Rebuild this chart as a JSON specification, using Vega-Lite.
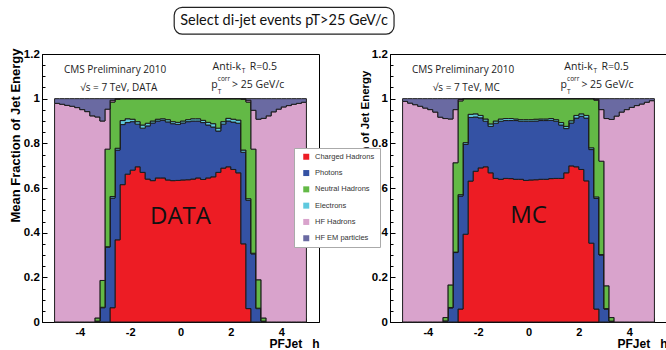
{
  "$schema": "https://vega.github.io/schema/vega-lite/v6.json",
  "background": "white",
  "padding": {"left": 8, "top": 6, "right": 0, "bottom": 0},
  "datasets": {
    "comps": [
      {"k": "ch", "name": "Charged Hadrons"},
      {"k": "ph", "name": "Photons"},
      {"k": "el", "name": "Electrons"},
      {"k": "nh", "name": "Neutral Hadrons"},
      {"k": "hh", "name": "HF Hadrons"},
      {"k": "he", "name": "HF EM particles"}
    ],
    "bins": [
      {"s":"DATA","lo":-5,"hi":-4.8,"ch":0,"ph":0,"el":0,"nh":0,"hh":0.979,"he":0.021},
      {"s":"DATA","lo":-4.8,"hi":-4.6,"ch":0,"ph":0,"el":0,"nh":0,"hh":0.975,"he":0.025},
      {"s":"DATA","lo":-4.6,"hi":-4.4,"ch":0,"ph":0,"el":0,"nh":0,"hh":0.97,"he":0.03},
      {"s":"DATA","lo":-4.4,"hi":-4.2,"ch":0,"ph":0,"el":0,"nh":0,"hh":0.966,"he":0.034},
      {"s":"DATA","lo":-4.2,"hi":-4,"ch":0,"ph":0,"el":0,"nh":0,"hh":0.96,"he":0.04},
      {"s":"DATA","lo":-4,"hi":-3.8,"ch":0,"ph":0,"el":0,"nh":0,"hh":0.951,"he":0.049},
      {"s":"DATA","lo":-3.8,"hi":-3.6,"ch":0,"ph":0,"el":0,"nh":0,"hh":0.942,"he":0.058},
      {"s":"DATA","lo":-3.6,"hi":-3.4,"ch":0,"ph":0,"el":0,"nh":0,"hh":0.923,"he":0.077},
      {"s":"DATA","lo":-3.4,"hi":-3.2,"ch":0,"ph":0.004,"el":0,"nh":0.014,"hh":0.9,"he":0.082},
      {"s":"DATA","lo":-3.2,"hi":-3,"ch":0,"ph":0.064,"el":0.002,"nh":0.12,"hh":0.714,"he":0.1},
      {"s":"DATA","lo":-3,"hi":-2.8,"ch":0,"ph":0.335,"el":0.002,"nh":0.437,"hh":0.179,"he":0.047},
      {"s":"DATA","lo":-2.8,"hi":-2.6,"ch":0.064,"ph":0.491,"el":0.007,"nh":0.423,"hh":0.008,"he":0.007},
      {"s":"DATA","lo":-2.6,"hi":-2.4,"ch":0.368,"ph":0.402,"el":0.008,"nh":0.22,"hh":0.001,"he":0.001},
      {"s":"DATA","lo":-2.4,"hi":-2.2,"ch":0.615,"ph":0.269,"el":0.018,"nh":0.098,"hh":0,"he":0},
      {"s":"DATA","lo":-2.2,"hi":-2,"ch":0.662,"ph":0.231,"el":0.017,"nh":0.09,"hh":0,"he":0},
      {"s":"DATA","lo":-2,"hi":-1.8,"ch":0.68,"ph":0.217,"el":0.011,"nh":0.092,"hh":0,"he":0},
      {"s":"DATA","lo":-1.8,"hi":-1.6,"ch":0.695,"ph":0.191,"el":0.011,"nh":0.103,"hh":0,"he":0},
      {"s":"DATA","lo":-1.6,"hi":-1.4,"ch":0.67,"ph":0.198,"el":0.014,"nh":0.118,"hh":0,"he":0},
      {"s":"DATA","lo":-1.4,"hi":-1.2,"ch":0.64,"ph":0.238,"el":0.012,"nh":0.11,"hh":0,"he":0},
      {"s":"DATA","lo":-1.2,"hi":-1,"ch":0.633,"ph":0.258,"el":0.009,"nh":0.1,"hh":0,"he":0},
      {"s":"DATA","lo":-1,"hi":-0.8,"ch":0.645,"ph":0.255,"el":0.008,"nh":0.092,"hh":0,"he":0},
      {"s":"DATA","lo":-0.8,"hi":-0.6,"ch":0.645,"ph":0.258,"el":0.007,"nh":0.09,"hh":0,"he":0},
      {"s":"DATA","lo":-0.6,"hi":-0.4,"ch":0.636,"ph":0.26,"el":0.01,"nh":0.094,"hh":0,"he":0},
      {"s":"DATA","lo":-0.4,"hi":-0.2,"ch":0.633,"ph":0.255,"el":0.009,"nh":0.103,"hh":0,"he":0},
      {"s":"DATA","lo":-0.2,"hi":0,"ch":0.634,"ph":0.251,"el":0.009,"nh":0.106,"hh":0,"he":0},
      {"s":"DATA","lo":0,"hi":0.2,"ch":0.636,"ph":0.255,"el":0.009,"nh":0.1,"hh":0,"he":0},
      {"s":"DATA","lo":0.2,"hi":0.4,"ch":0.637,"ph":0.26,"el":0.009,"nh":0.094,"hh":0,"he":0},
      {"s":"DATA","lo":0.4,"hi":0.6,"ch":0.64,"ph":0.26,"el":0.01,"nh":0.09,"hh":0,"he":0},
      {"s":"DATA","lo":0.6,"hi":0.8,"ch":0.645,"ph":0.255,"el":0.01,"nh":0.09,"hh":0,"he":0},
      {"s":"DATA","lo":0.8,"hi":1,"ch":0.638,"ph":0.255,"el":0.01,"nh":0.097,"hh":0,"he":0},
      {"s":"DATA","lo":1,"hi":1.2,"ch":0.645,"ph":0.237,"el":0.012,"nh":0.106,"hh":0,"he":0},
      {"s":"DATA","lo":1.2,"hi":1.4,"ch":0.65,"ph":0.223,"el":0.015,"nh":0.112,"hh":0,"he":0},
      {"s":"DATA","lo":1.4,"hi":1.6,"ch":0.67,"ph":0.185,"el":0.013,"nh":0.132,"hh":0,"he":0},
      {"s":"DATA","lo":1.6,"hi":1.8,"ch":0.689,"ph":0.197,"el":0.011,"nh":0.103,"hh":0,"he":0},
      {"s":"DATA","lo":1.8,"hi":2,"ch":0.695,"ph":0.205,"el":0.012,"nh":0.088,"hh":0,"he":0},
      {"s":"DATA","lo":2,"hi":2.2,"ch":0.683,"ph":0.212,"el":0.013,"nh":0.092,"hh":0,"he":0},
      {"s":"DATA","lo":2.2,"hi":2.4,"ch":0.668,"ph":0.222,"el":0.014,"nh":0.096,"hh":0,"he":0},
      {"s":"DATA","lo":2.4,"hi":2.6,"ch":0.35,"ph":0.41,"el":0.01,"nh":0.228,"hh":0.001,"he":0.001},
      {"s":"DATA","lo":2.6,"hi":2.8,"ch":0.06,"ph":0.485,"el":0.007,"nh":0.433,"hh":0.008,"he":0.007},
      {"s":"DATA","lo":2.8,"hi":3,"ch":0,"ph":0.305,"el":0.003,"nh":0.466,"hh":0.174,"he":0.052},
      {"s":"DATA","lo":3,"hi":3.2,"ch":0,"ph":0.06,"el":0.002,"nh":0.127,"hh":0.719,"he":0.092},
      {"s":"DATA","lo":3.2,"hi":3.4,"ch":0,"ph":0.004,"el":0,"nh":0.014,"hh":0.894,"he":0.088},
      {"s":"DATA","lo":3.4,"hi":3.6,"ch":0,"ph":0,"el":0,"nh":0,"hh":0.923,"he":0.077},
      {"s":"DATA","lo":3.6,"hi":3.8,"ch":0,"ph":0,"el":0,"nh":0,"hh":0.941,"he":0.059},
      {"s":"DATA","lo":3.8,"hi":4,"ch":0,"ph":0,"el":0,"nh":0,"hh":0.953,"he":0.047},
      {"s":"DATA","lo":4,"hi":4.2,"ch":0,"ph":0,"el":0,"nh":0,"hh":0.963,"he":0.037},
      {"s":"DATA","lo":4.2,"hi":4.4,"ch":0,"ph":0,"el":0,"nh":0,"hh":0.969,"he":0.031},
      {"s":"DATA","lo":4.4,"hi":4.6,"ch":0,"ph":0,"el":0,"nh":0,"hh":0.975,"he":0.025},
      {"s":"DATA","lo":4.6,"hi":4.8,"ch":0,"ph":0,"el":0,"nh":0,"hh":0.979,"he":0.021},
      {"s":"DATA","lo":4.8,"hi":5,"ch":0,"ph":0,"el":0,"nh":0,"hh":0.984,"he":0.016},
      {"s":"MC","lo":-5,"hi":-4.8,"ch":0,"ph":0,"el":0,"nh":0,"hh":0.988,"he":0.012},
      {"s":"MC","lo":-4.8,"hi":-4.6,"ch":0,"ph":0,"el":0,"nh":0,"hh":0.98,"he":0.02},
      {"s":"MC","lo":-4.6,"hi":-4.4,"ch":0,"ph":0,"el":0,"nh":0,"hh":0.973,"he":0.027},
      {"s":"MC","lo":-4.4,"hi":-4.2,"ch":0,"ph":0,"el":0,"nh":0,"hh":0.966,"he":0.034},
      {"s":"MC","lo":-4.2,"hi":-4,"ch":0,"ph":0,"el":0,"nh":0,"hh":0.958,"he":0.042},
      {"s":"MC","lo":-4,"hi":-3.8,"ch":0,"ph":0,"el":0,"nh":0,"hh":0.951,"he":0.049},
      {"s":"MC","lo":-3.8,"hi":-3.6,"ch":0,"ph":0,"el":0,"nh":0,"hh":0.94,"he":0.06},
      {"s":"MC","lo":-3.6,"hi":-3.4,"ch":0,"ph":0,"el":0,"nh":0,"hh":0.917,"he":0.083},
      {"s":"MC","lo":-3.4,"hi":-3.2,"ch":0,"ph":0.005,"el":0,"nh":0.015,"hh":0.891,"he":0.089},
      {"s":"MC","lo":-3.2,"hi":-3,"ch":0,"ph":0.063,"el":0.002,"nh":0.101,"hh":0.743,"he":0.091},
      {"s":"MC","lo":-3,"hi":-2.8,"ch":0,"ph":0.311,"el":0.002,"nh":0.4,"hh":0.238,"he":0.049},
      {"s":"MC","lo":-2.8,"hi":-2.6,"ch":0.058,"ph":0.506,"el":0.006,"nh":0.42,"hh":0.006,"he":0.004},
      {"s":"MC","lo":-2.6,"hi":-2.4,"ch":0.393,"ph":0.402,"el":0.008,"nh":0.197,"hh":0,"he":0},
      {"s":"MC","lo":-2.4,"hi":-2.2,"ch":0.631,"ph":0.285,"el":0.014,"nh":0.07,"hh":0,"he":0},
      {"s":"MC","lo":-2.2,"hi":-2,"ch":0.675,"ph":0.243,"el":0.014,"nh":0.068,"hh":0,"he":0},
      {"s":"MC","lo":-2,"hi":-1.8,"ch":0.69,"ph":0.224,"el":0.011,"nh":0.075,"hh":0,"he":0},
      {"s":"MC","lo":-1.8,"hi":-1.6,"ch":0.695,"ph":0.204,"el":0.01,"nh":0.091,"hh":0,"he":0},
      {"s":"MC","lo":-1.6,"hi":-1.4,"ch":0.668,"ph":0.208,"el":0.011,"nh":0.113,"hh":0,"he":0},
      {"s":"MC","lo":-1.4,"hi":-1.2,"ch":0.643,"ph":0.247,"el":0.01,"nh":0.1,"hh":0,"he":0},
      {"s":"MC","lo":-1.2,"hi":-1,"ch":0.639,"ph":0.26,"el":0.01,"nh":0.091,"hh":0,"he":0},
      {"s":"MC","lo":-1,"hi":-0.8,"ch":0.643,"ph":0.259,"el":0.009,"nh":0.089,"hh":0,"he":0},
      {"s":"MC","lo":-0.8,"hi":-0.6,"ch":0.642,"ph":0.26,"el":0.009,"nh":0.089,"hh":0,"he":0},
      {"s":"MC","lo":-0.6,"hi":-0.4,"ch":0.639,"ph":0.263,"el":0.007,"nh":0.091,"hh":0,"he":0},
      {"s":"MC","lo":-0.4,"hi":-0.2,"ch":0.639,"ph":0.26,"el":0.007,"nh":0.094,"hh":0,"he":0},
      {"s":"MC","lo":-0.2,"hi":0,"ch":0.634,"ph":0.265,"el":0.007,"nh":0.094,"hh":0,"he":0},
      {"s":"MC","lo":0,"hi":0.2,"ch":0.636,"ph":0.263,"el":0.007,"nh":0.094,"hh":0,"he":0},
      {"s":"MC","lo":0.2,"hi":0.4,"ch":0.637,"ph":0.263,"el":0.008,"nh":0.092,"hh":0,"he":0},
      {"s":"MC","lo":0.4,"hi":0.6,"ch":0.639,"ph":0.263,"el":0.007,"nh":0.091,"hh":0,"he":0},
      {"s":"MC","lo":0.6,"hi":0.8,"ch":0.639,"ph":0.263,"el":0.007,"nh":0.091,"hh":0,"he":0},
      {"s":"MC","lo":0.8,"hi":1,"ch":0.642,"ph":0.261,"el":0.008,"nh":0.089,"hh":0,"he":0},
      {"s":"MC","lo":1,"hi":1.2,"ch":0.643,"ph":0.256,"el":0.007,"nh":0.094,"hh":0,"he":0},
      {"s":"MC","lo":1.2,"hi":1.4,"ch":0.643,"ph":0.239,"el":0.011,"nh":0.107,"hh":0,"he":0},
      {"s":"MC","lo":1.4,"hi":1.6,"ch":0.668,"ph":0.198,"el":0.01,"nh":0.124,"hh":0,"he":0},
      {"s":"MC","lo":1.6,"hi":1.8,"ch":0.699,"ph":0.192,"el":0.01,"nh":0.099,"hh":0,"he":0},
      {"s":"MC","lo":1.8,"hi":2,"ch":0.695,"ph":0.218,"el":0.012,"nh":0.075,"hh":0,"he":0},
      {"s":"MC","lo":2,"hi":2.2,"ch":0.683,"ph":0.238,"el":0.011,"nh":0.068,"hh":0,"he":0},
      {"s":"MC","lo":2.2,"hi":2.4,"ch":0.632,"ph":0.281,"el":0.012,"nh":0.075,"hh":0,"he":0},
      {"s":"MC","lo":2.4,"hi":2.6,"ch":0.353,"ph":0.419,"el":0.008,"nh":0.22,"hh":0,"he":0},
      {"s":"MC","lo":2.6,"hi":2.8,"ch":0.058,"ph":0.495,"el":0.007,"nh":0.433,"hh":0.004,"he":0.003},
      {"s":"MC","lo":2.8,"hi":3,"ch":0,"ph":0.3,"el":0.002,"nh":0.418,"hh":0.231,"he":0.049},
      {"s":"MC","lo":3,"hi":3.2,"ch":0,"ph":0.058,"el":0.002,"nh":0.102,"hh":0.749,"he":0.089},
      {"s":"MC","lo":3.2,"hi":3.4,"ch":0,"ph":0.004,"el":0,"nh":0.016,"hh":0.887,"he":0.093},
      {"s":"MC","lo":3.4,"hi":3.6,"ch":0,"ph":0,"el":0,"nh":0,"hh":0.922,"he":0.078},
      {"s":"MC","lo":3.6,"hi":3.8,"ch":0,"ph":0,"el":0,"nh":0,"hh":0.94,"he":0.06},
      {"s":"MC","lo":3.8,"hi":4,"ch":0,"ph":0,"el":0,"nh":0,"hh":0.951,"he":0.049},
      {"s":"MC","lo":4,"hi":4.2,"ch":0,"ph":0,"el":0,"nh":0,"hh":0.961,"he":0.039},
      {"s":"MC","lo":4.2,"hi":4.4,"ch":0,"ph":0,"el":0,"nh":0,"hh":0.969,"he":0.031},
      {"s":"MC","lo":4.4,"hi":4.6,"ch":0,"ph":0,"el":0,"nh":0,"hh":0.976,"he":0.024},
      {"s":"MC","lo":4.6,"hi":4.8,"ch":0,"ph":0,"el":0,"nh":0,"hh":0.984,"he":0.016},
      {"s":"MC","lo":4.8,"hi":5,"ch":0,"ph":0,"el":0,"nh":0,"hh":0.991,"he":0.009}
    ]
  },
  "spacing": 71,
  "bounds": "flush",
  "hconcat": [
    {
      "width": 277,
      "height": 268,
      "layer": [
        {
          "data": {"name": "bins"},
          "transform": [
            {"filter": "datum.s === 'DATA'"},
            {"fold": ["ch", "ph", "el", "nh", "hh", "he"], "as": ["k", "frac"]},
            {"fold": ["lo", "hi"], "as": ["side", "eta"]},
            {"stack": "frac", "groupby": ["eta", "side"], "as": ["y0", "y1"]},
            {"lookup": "k", "from": {"data": {"name": "comps"}, "key": "k", "fields": ["name"]}}
          ],
          "mark": {"type": "area", "stroke": "#1c1c1c", "strokeWidth": 1, "interpolate": "linear"},
          "encoding": {
            "x": {"field": "eta", "type": "quantitative", "scale": {"domain": [-5.5, 5.5], "nice": false, "zero": false},
              "axis": {"values": [-5,-4.5,-4,-3.5,-3,-2.5,-2,-1.5,-1,-0.5,0,0.5,1,1.5,2,2.5,3,3.5,4,4.5,5], "tickCount": 100,
                "labelExpr": "abs(datum.value/2 - round(datum.value/2)) < 0.001 ? toString(datum.value) : ''",
                "tickSize": {"condition": {"test": "abs(datum.value/2 - round(datum.value/2)) < 0.001", "value": -8}, "value": -4},
                "labelPadding": 12, "labelFontSize": 11, "title": "PFJet\u00a0\u00a0\u00a0h", "titleAnchor": "end", "titleBaseline": "top", "titleY": 16.5, "titleFontSize": 12}},
            "y": {"field": "y1", "type": "quantitative", "scale": {"domain": [0, 1.2], "nice": false, "zero": true},
              "axis": {"values": [0,0.05,0.1,0.15,0.2,0.25,0.3,0.35,0.4,0.45,0.5,0.55,0.6,0.65,0.7,0.75,0.8,0.85,0.9,0.95,1,1.05,1.1,1.15,1.2], "tickCount": 100,
                "labelExpr": "abs(datum.value*5 - round(datum.value*5)) < 0.001 ? toString(round(datum.value*10)/10) : ''",
                "tickSize": {"condition": {"test": "abs(datum.value*5 - round(datum.value*5)) < 0.001", "value": -5}, "value": -3},
                "labelPadding": 7.7, "title": "Mean Fraction of Jet Energy", "titleAnchor": "end", "titleY": -6, "titleX": -20, "titleBaseline": "bottom", "titleFontSize": 13}},
            "y2": {"field": "y0"},
            "color": {"field": "name", "type": "nominal",
              "scale": {"domain": ["Charged Hadrons", "Photons", "Neutral Hadrons", "Electrons", "HF Hadrons", "HF EM particles"],
                "range": ["#ED1C24", "#3452A4", "#63B946", "#5FC9DE", "#D9A3CC", "#6A6AA2"]},
              "legend": {"title": null}},
            "order": [{"field": "eta", "type": "quantitative"}, {"field": "side", "type": "ordinal"}]
          }
        },
        {"data": {"values": [{"t": "CMS Preliminary 2010"}]}, "mark": {"type": "text", "font": "Open Sans", "fontSize": 10, "color": "#222", "align": "center", "baseline": "middle"},
          "encoding": {"x": {"datum": -2.6, "type": "quantitative"}, "y": {"datum": 1.127, "type": "quantitative"}, "text": {"field": "t"}}},
        {"data": {"values": [{"t": "√s = 7 TeV, DATA"}]}, "mark": {"type": "text", "font": "Open Sans", "fontSize": 10, "color": "#222", "align": "center", "baseline": "middle"},
          "encoding": {"x": {"datum": -2.45, "type": "quantitative"}, "y": {"datum": 1.049, "type": "quantitative"}, "text": {"field": "t"}}},
        {"data": {"values": [{"t": "Anti-k"}]}, "mark": {"type": "text", "font": "Open Sans", "fontSize": 10.5, "color": "#222", "align": "right", "baseline": "middle"},
          "encoding": {"x": {"datum": 2.4, "type": "quantitative"}, "y": {"datum": 1.141, "type": "quantitative"}, "text": {"field": "t"}}},
        {"data": {"values": [{"t": "T"}]}, "mark": {"type": "text", "font": "Open Sans", "fontSize": 6.5, "color": "#222", "align": "left", "baseline": "middle"},
          "encoding": {"x": {"datum": 2.43, "type": "quantitative"}, "y": {"datum": 1.122, "type": "quantitative"}, "text": {"field": "t"}}},
        {"data": {"values": [{"t": "R=0.5"}]}, "mark": {"type": "text", "font": "Open Sans", "fontSize": 10.5, "color": "#222", "align": "left", "baseline": "middle"},
          "encoding": {"x": {"datum": 2.75, "type": "quantitative"}, "y": {"datum": 1.141, "type": "quantitative"}, "text": {"field": "t"}}},
        {"data": {"values": [{"t": "p"}]}, "mark": {"type": "text", "font": "Open Sans", "fontSize": 10.5, "color": "#222", "align": "left", "baseline": "middle"},
          "encoding": {"x": {"datum": 1.22, "type": "quantitative"}, "y": {"datum": 1.06, "type": "quantitative"}, "text": {"field": "t"}}},
        {"data": {"values": [{"t": "T"}]}, "mark": {"type": "text", "font": "Open Sans", "fontSize": 6.5, "color": "#222", "align": "left", "baseline": "middle"},
          "encoding": {"x": {"datum": 1.48, "type": "quantitative"}, "y": {"datum": 1.032, "type": "quantitative"}, "text": {"field": "t"}}},
        {"data": {"values": [{"t": "corr"}]}, "mark": {"type": "text", "font": "Open Sans", "fontSize": 6.5, "color": "#222", "align": "left", "baseline": "middle"},
          "encoding": {"x": {"datum": 1.48, "type": "quantitative"}, "y": {"datum": 1.086, "type": "quantitative"}, "text": {"field": "t"}}},
        {"data": {"values": [{"t": "> 25 GeV/c"}]}, "mark": {"type": "text", "font": "Open Sans", "fontSize": 10.5, "color": "#222", "align": "left", "baseline": "middle"},
          "encoding": {"x": {"datum": 2.05, "type": "quantitative"}, "y": {"datum": 1.06, "type": "quantitative"}, "text": {"field": "t"}}},
        {"data": {"values": [{"t": "DATA"}]}, "mark": {"type": "text", "font": "Open Sans", "fontSize": 24, "color": "#111", "align": "center", "baseline": "middle"},
          "encoding": {"x": {"datum": 0, "type": "quantitative"}, "y": {"datum": 0.47, "type": "quantitative"}, "text": {"field": "t"}}},
        {"data": {"values": [{"t": "box"}]}, "mark": {"type": "rect", "cornerRadius": 8, "fill": "white", "stroke": "#222", "strokeWidth": 1.2},
          "encoding": {"x": {"datum": -0.25, "type": "quantitative"}, "x2": {"datum": 8.48}, "y": {"datum": 1.409, "type": "quantitative"}, "y2": {"datum": 1.289}}},
        {"data": {"values": [{"t": "Select di-jet events pT>25 GeV/c"}]}, "mark": {"type": "text", "font": "Lato", "fontSize": 14.5, "color": "#111", "align": "center", "baseline": "middle"},
          "encoding": {"x": {"datum": 4.11, "type": "quantitative"}, "y": {"datum": 1.349, "type": "quantitative"}, "text": {"field": "t"}}}
      ]
    },
    {
      "width": 277,
      "height": 268,
      "layer": [
        {
          "data": {"name": "bins"},
          "transform": [
            {"filter": "datum.s === 'MC'"},
            {"fold": ["ch", "ph", "el", "nh", "hh", "he"], "as": ["k", "frac"]},
            {"fold": ["lo", "hi"], "as": ["side", "eta"]},
            {"stack": "frac", "groupby": ["eta", "side"], "as": ["y0", "y1"]},
            {"lookup": "k", "from": {"data": {"name": "comps"}, "key": "k", "fields": ["name"]}}
          ],
          "mark": {"type": "area", "stroke": "#1c1c1c", "strokeWidth": 1, "interpolate": "linear"},
          "encoding": {
            "x": {"field": "eta", "type": "quantitative", "scale": {"domain": [-5.5, 5.5], "nice": false, "zero": false},
              "axis": {"values": [-5,-4.5,-4,-3.5,-3,-2.5,-2,-1.5,-1,-0.5,0,0.5,1,1.5,2,2.5,3,3.5,4,4.5,5], "tickCount": 100,
                "labelExpr": "abs(datum.value/2 - round(datum.value/2)) < 0.001 ? toString(datum.value) : ''",
                "tickSize": {"condition": {"test": "abs(datum.value/2 - round(datum.value/2)) < 0.001", "value": -8}, "value": -4},
                "labelPadding": 12, "labelFontSize": 11, "title": "PFJet\u00a0\u00a0\u00a0h", "titleAnchor": "end", "titleBaseline": "top", "titleY": 16.5, "titleFontSize": 12}},
            "y": {"field": "y1", "type": "quantitative", "scale": {"domain": [0, 1.2], "nice": false, "zero": true},
              "axis": {"values": [0,0.05,0.1,0.15,0.2,0.25,0.3,0.35,0.4,0.45,0.5,0.55,0.6,0.65,0.7,0.75,0.8,0.85,0.9,0.95,1,1.05,1.1,1.15,1.2], "tickCount": 100,
                "labelExpr": "abs(datum.value*5 - round(datum.value*5)) < 0.001 ? toString(round(datum.value*10)/10) : ''",
                "tickSize": {"condition": {"test": "abs(datum.value*5 - round(datum.value*5)) < 0.001", "value": -5}, "value": -3},
                "labelPadding": 7.7, "title": "Mean Fraction of Jet Energy", "titleAnchor": "end", "titleY": 16, "titleX": -20, "titleBaseline": "bottom", "titleFontSize": 11.5}},
            "y2": {"field": "y0"},
            "color": {"field": "name", "type": "nominal",
              "scale": {"domain": ["Charged Hadrons", "Photons", "Neutral Hadrons", "Electrons", "HF Hadrons", "HF EM particles"],
                "range": ["#ED1C24", "#3452A4", "#63B946", "#5FC9DE", "#D9A3CC", "#6A6AA2"]},
              "legend": {"title": null}},
            "order": [{"field": "eta", "type": "quantitative"}, {"field": "side", "type": "ordinal"}]
          }
        },
        {"data": {"values": [{"t": "CMS Preliminary 2010"}]}, "mark": {"type": "text", "font": "Open Sans", "fontSize": 10, "color": "#222", "align": "center", "baseline": "middle"},
          "encoding": {"x": {"datum": -2.6, "type": "quantitative"}, "y": {"datum": 1.127, "type": "quantitative"}, "text": {"field": "t"}}},
        {"data": {"values": [{"t": "√s = 7 TeV, MC"}]}, "mark": {"type": "text", "font": "Open Sans", "fontSize": 10, "color": "#222", "align": "center", "baseline": "middle"},
          "encoding": {"x": {"datum": -2.47, "type": "quantitative"}, "y": {"datum": 1.049, "type": "quantitative"}, "text": {"field": "t"}}},
        {"data": {"values": [{"t": "Anti-k"}]}, "mark": {"type": "text", "font": "Open Sans", "fontSize": 10.5, "color": "#222", "align": "right", "baseline": "middle"},
          "encoding": {"x": {"datum": 2.55, "type": "quantitative"}, "y": {"datum": 1.141, "type": "quantitative"}, "text": {"field": "t"}}},
        {"data": {"values": [{"t": "T"}]}, "mark": {"type": "text", "font": "Open Sans", "fontSize": 6.5, "color": "#222", "align": "left", "baseline": "middle"},
          "encoding": {"x": {"datum": 2.58, "type": "quantitative"}, "y": {"datum": 1.122, "type": "quantitative"}, "text": {"field": "t"}}},
        {"data": {"values": [{"t": "R=0.5"}]}, "mark": {"type": "text", "font": "Open Sans", "fontSize": 10.5, "color": "#222", "align": "left", "baseline": "middle"},
          "encoding": {"x": {"datum": 2.9, "type": "quantitative"}, "y": {"datum": 1.141, "type": "quantitative"}, "text": {"field": "t"}}},
        {"data": {"values": [{"t": "p"}]}, "mark": {"type": "text", "font": "Open Sans", "fontSize": 10.5, "color": "#222", "align": "left", "baseline": "middle"},
          "encoding": {"x": {"datum": 1.27, "type": "quantitative"}, "y": {"datum": 1.06, "type": "quantitative"}, "text": {"field": "t"}}},
        {"data": {"values": [{"t": "T"}]}, "mark": {"type": "text", "font": "Open Sans", "fontSize": 6.5, "color": "#222", "align": "left", "baseline": "middle"},
          "encoding": {"x": {"datum": 1.53, "type": "quantitative"}, "y": {"datum": 1.032, "type": "quantitative"}, "text": {"field": "t"}}},
        {"data": {"values": [{"t": "corr"}]}, "mark": {"type": "text", "font": "Open Sans", "fontSize": 6.5, "color": "#222", "align": "left", "baseline": "middle"},
          "encoding": {"x": {"datum": 1.53, "type": "quantitative"}, "y": {"datum": 1.086, "type": "quantitative"}, "text": {"field": "t"}}},
        {"data": {"values": [{"t": "> 25 GeV/c"}]}, "mark": {"type": "text", "font": "Open Sans", "fontSize": 10.5, "color": "#222", "align": "left", "baseline": "middle"},
          "encoding": {"x": {"datum": 2.1, "type": "quantitative"}, "y": {"datum": 1.06, "type": "quantitative"}, "text": {"field": "t"}}},
        {"data": {"values": [{"t": "MC"}]}, "mark": {"type": "text", "font": "Open Sans", "fontSize": 24, "color": "#111", "align": "center", "baseline": "middle"},
          "encoding": {"x": {"datum": 0, "type": "quantitative"}, "y": {"datum": 0.475, "type": "quantitative"}, "text": {"field": "t"}}}
      ]
    }
  ],
  "config": {
    "view": {"stroke": "black", "strokeWidth": 1},
    "axis": {"domainColor": "black", "domainWidth": 1, "tickColor": "black", "tickWidth": 1, "grid": false,
      "labelFont": "Liberation Sans", "labelFontWeight": "bold", "labelFontSize": 11.5, "labelColor": "black",
      "titleFont": "Liberation Sans", "titleFontWeight": "bold", "titleColor": "black",
      "labelOverlap": false, "labelFlush": false, "zindex": 1},
    "legend": {"orient": "none", "legendX": 252, "legendY": 94, "symbolType": "square", "symbolSize": 36, "symbolStrokeWidth": 0,
      "labelFont": "Liberation Sans", "labelFontSize": 7.5, "labelColor": "#333", "padding": 5, "rowPadding": 7.3,
      "fillColor": "white", "strokeColor": "#aaaaaa", "symbolOffset": 3.5, "labelOffset": 5}
  }
}
